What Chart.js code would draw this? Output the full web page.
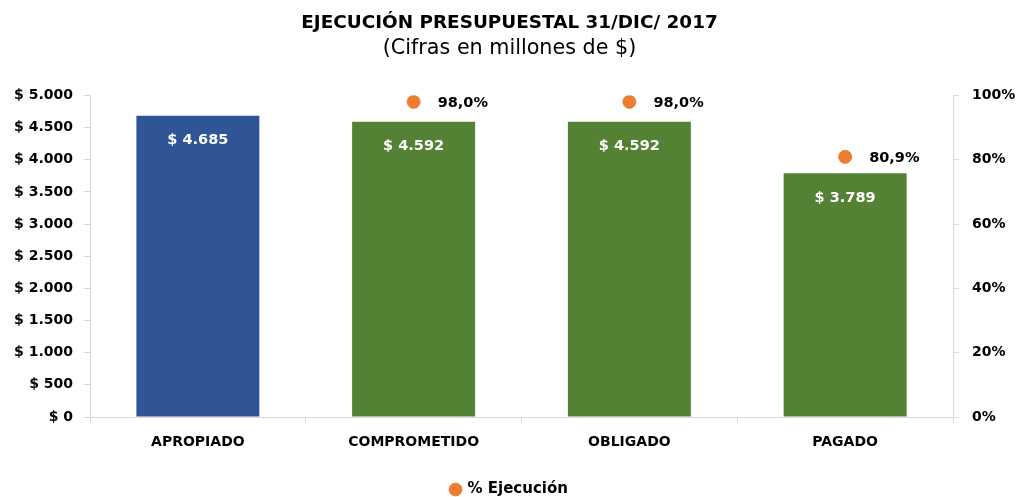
<!DOCTYPE html>
<html>
<head>
<meta charset="utf-8">
<script src="https://cdn.jsdelivr.net/npm/chart.js@4.4.0/dist/chart.umd.min.js"></script>
<style>
  html, body { margin: 0; padding: 0; background: #fff; }
  #wrap { width: 1019px; height: 497px; }
</style>
</head>
<body>
<div id="wrap"><canvas id="chartContainer" width="1019" height="497"></canvas></div>
<script>
// data
const categories = ['APROPIADO', 'COMPROMETIDO', 'OBLIGADO', 'PAGADO'];
const montos = [4685, 4592, 4592, 3789];          // millones de $
const ejecucion = [null, 98.0, 98.0, 80.9];       // % ejecución
const barColors = ['#2F5597', '#548235', '#548235', '#548235'];

const FONT = '"DejaVu Sans", sans-serif';

function miles(v) {
    return String(v).replace(/\B(?=(\d{3})+(?!\d))/g, '.');
}

// draws the value labels (no datalabels plugin available)
const labelPlugin = {
    id: 'labels',
    afterDatasetsDraw(chart) {
        const ctx = chart.ctx;
        ctx.save();
        // bar labels inside the top of each bar
        chart.getDatasetMeta(1).data.forEach((bar, i) => {
            ctx.fillStyle = '#ffffff';
            ctx.font = 'bold 14.5px ' + FONT;
            ctx.textAlign = 'center';
            ctx.textBaseline = 'middle';
            ctx.fillText('$ ' + miles(montos[i]), bar.x, bar.y + 25);
        });
        // percentage labels to the right of each point
        chart.getDatasetMeta(0).data.forEach((pt, i) => {
            if (ejecucion[i] == null) return;
            ctx.fillStyle = '#000000';
            ctx.font = 'bold 14.5px ' + FONT;
            ctx.textAlign = 'left';
            ctx.textBaseline = 'middle';
            ctx.fillText(ejecucion[i].toFixed(1).replace('.', ',') + '%', pt.x + 24, pt.y + 1);
        });
        ctx.restore();
    }
};

const ctx = document.getElementById('chartContainer').getContext('2d');
const chart = new Chart(ctx, {
    type: 'bar',
    data: {
        labels: categories,
        datasets: [{
            type: 'line',
            label: '% Ejecución',
            data: ejecucion,
            yAxisID: 'y1',
            showLine: false,
            pointRadius: 6.5,
            pointHoverRadius: 6.5,
            pointBackgroundColor: '#ED7D31',
            pointBorderColor: '#ED7D31',
            backgroundColor: '#ED7D31',
            borderColor: '#ED7D31'
        }, {
            label: 'Monto',
            data: montos,
            yAxisID: 'y',
            backgroundColor: barColors,
            borderWidth: 0,
            categoryPercentage: 0.57,
            barPercentage: 1.0
        }]
    },
    options: {
        responsive: false,
        animation: false,
        layout: { padding: { top: 0, bottom: -10, left: 0, right: 0 } },
        plugins: {
            title: {
                display: true,
                text: 'EJECUCIÓN PRESUPUESTAL 31/DIC/ 2017',
                color: '#000',
                font: { family: FONT, size: 18.4, weight: 'bold' },
                padding: { top: 12, bottom: 2 }
            },
            subtitle: {
                display: true,
                text: '(Cifras en millones de $)',
                color: '#000',
                font: { family: FONT, size: 20.7, weight: 'normal' },
                padding: { top: 0, bottom: 34.5 }
            },
            legend: {
                position: 'bottom',
                labels: {
                    filter: item => item.datasetIndex === 0,
                    usePointStyle: true,
                    pointStyle: 'circle',
                    boxWidth: 9,
                    boxHeight: 9,
                    padding: 2,
                    color: '#000',
                    font: { family: FONT, size: 15, weight: 'bold' }
                }
            },
            tooltip: { enabled: false }
        },
        scales: {
            x: {
                afterFit(scale) { scale.height = 63; },
                grid: { display: true, drawOnChartArea: false, offset: true, color: '#d9d9d9', tickLength: 6 },
                border: { color: '#d9d9d9' },
                ticks: { color: '#000', font: { family: FONT, size: 14, weight: 'bold' }, padding: 11 }
            },
            y: {
                position: 'left',
                min: 0,
                max: 5000,
                afterFit(scale) { scale.width = 90; },
                grid: { display: true, drawOnChartArea: false, color: '#d9d9d9', tickLength: 6 },
                border: { color: '#d9d9d9' },
                ticks: {
                    stepSize: 500,
                    color: '#000',
                    font: { family: FONT, size: 14, weight: 'bold' },
                    padding: 11,
                    callback: v => '$ ' + miles(v)
                }
            },
            y1: {
                position: 'right',
                min: 0,
                max: 100,
                afterFit(scale) { scale.width = 66; },
                grid: { display: true, drawOnChartArea: false, color: '#d9d9d9', tickLength: 6 },
                border: { color: '#d9d9d9' },
                ticks: {
                    stepSize: 20,
                    color: '#000',
                    font: { family: FONT, size: 14, weight: 'bold' },
                    padding: 13,
                    callback: v => v + '%'
                }
            }
        }
    },
    plugins: [labelPlugin]
});
</script>
</body>
</html>
